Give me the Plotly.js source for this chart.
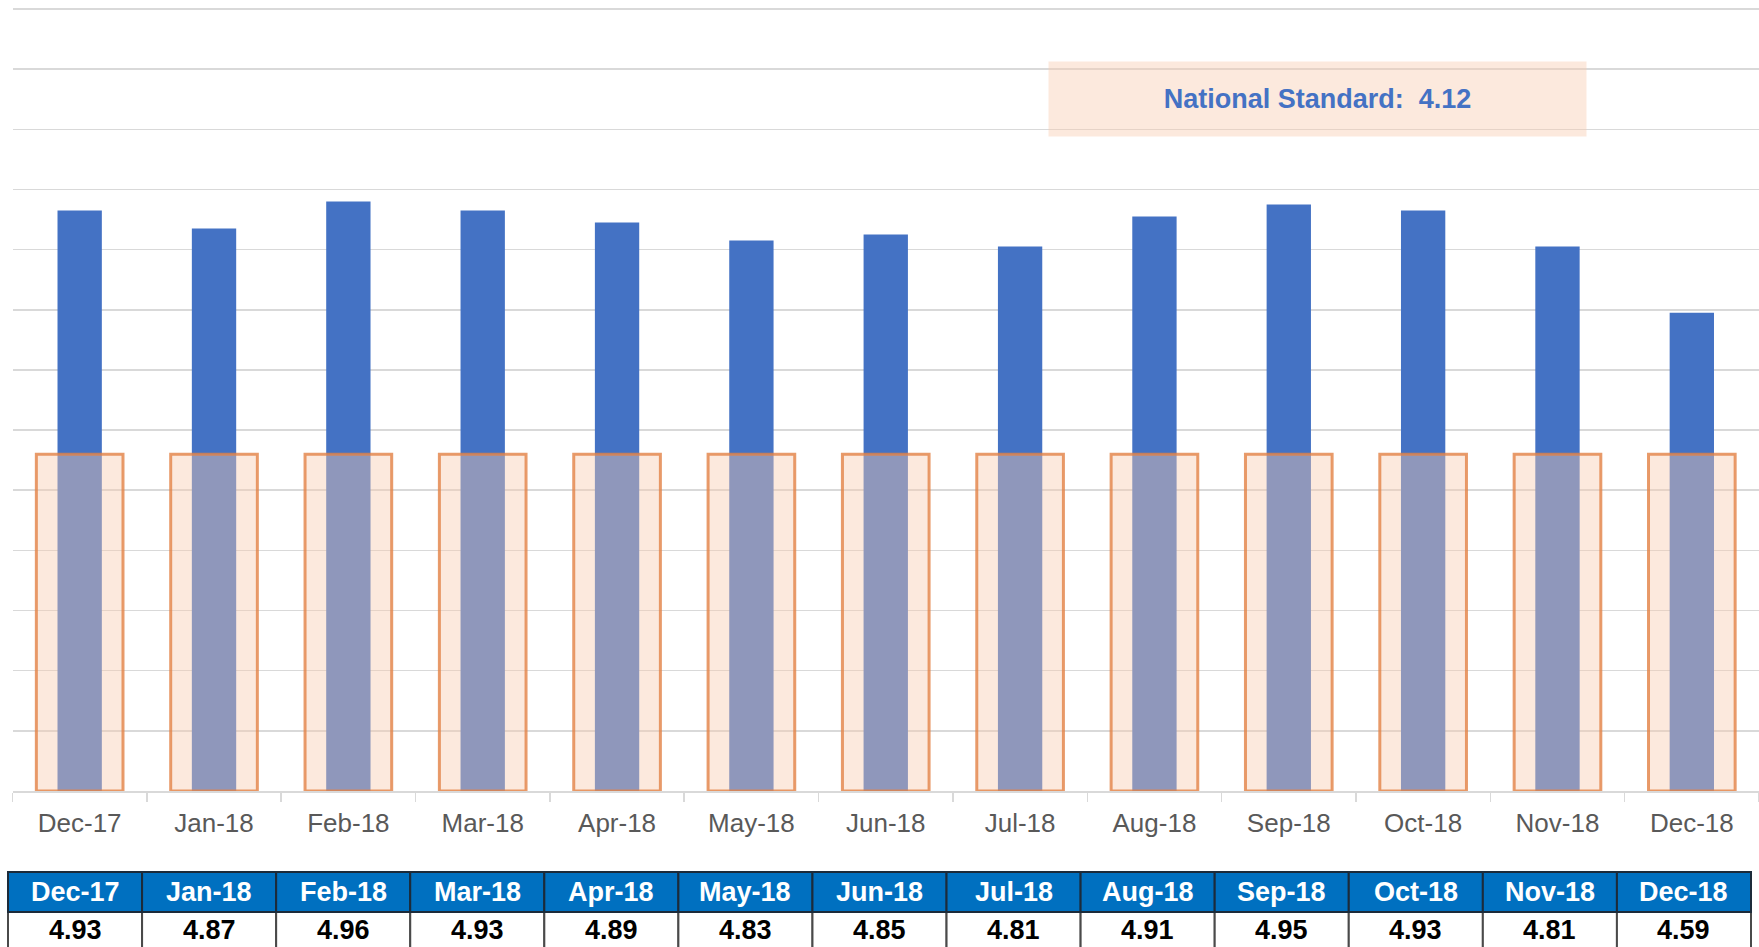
<!DOCTYPE html>
<html>
<head>
<meta charset="utf-8">
<script src="https://cdn.plot.ly/plotly-3.0.1.min.js"></script>
<style>
html,body{margin:0;padding:0;background:#fff;}
#chart{width:1759px;height:947px;}
</style>
</head>
<body>
<div id="chart"></div>
<script>
// ---- data ----
const months = ["Dec-17","Jan-18","Feb-18","Mar-18","Apr-18","May-18","Jun-18","Jul-18","Aug-18","Sep-18","Oct-18","Nov-18","Dec-18"];
const scores = [4.93, 4.87, 4.96, 4.93, 4.89, 4.83, 4.85, 4.81, 4.91, 4.95, 4.93, 4.81, 4.59];
const nationalStandard = 4.12;
const standardLabel = "National Standard:";
const yMin = 3.0;
const yMax = 5.6;

// ---- geometry (pixels of the 1759x947 page) ----
const W = 1759, H = 947;
const fy = px => (H - px) / H;   // page y pixel -> paper fraction
const fx = px => px / W;
const FONT = "Liberation Sans, Arial, sans-serif";
const fmt = v => v.toFixed(2);
const axisBottomPx = 791, gridTopPx = 9, plotTopPx = 3;
const pxPerUnit = (axisBottomPx - gridTopPx) / (yMax - yMin);
const yTop = yMax + (gridTopPx - plotTopPx) / pxPerUnit;

// ---- traces ----
const scoreBars = {
  type: "bar",
  x: months,
  y: scores,
  width: 0.33,
  marker: {color: "#4472C4", line: {width: 0}},
  hoverinfo: "x+y",
  showlegend: false
};

const standardBars = {
  type: "bar",
  x: months,
  y: months.map(() => nationalStandard - yMin),
  base: yMin,
  width: 0.645,
  marker: {
    color: "rgba(248,203,173,0.42)",
    line: {color: "rgba(226,130,70,0.8)", width: 3}
  },
  hoverinfo: "skip",
  showlegend: false
};

// ---- data table under the chart (built from months / scores) ----
const tblLeft = 8, tblRight = 1751, hdrTop = 872, hdrBot = 912, rowBot = 955;
const colW = (tblRight - tblLeft) / months.length;
const shapes = [];
const annotations = [];
months.forEach((m, i) => {
  const x0 = tblLeft + i * colW, x1 = x0 + colW;
  shapes.push({type: "rect", xref: "paper", yref: "paper", layer: "above",
    x0: fx(x0), x1: fx(x1), y0: fy(rowBot), y1: fy(hdrBot),
    fillcolor: "#FFFFFF", line: {color: "#4A4A4A", width: 2}});
});
months.forEach((m, i) => {
  const x0 = tblLeft + i * colW, x1 = x0 + colW;
  shapes.push({type: "rect", xref: "paper", yref: "paper", layer: "above",
    x0: fx(x0), x1: fx(x1), y0: fy(hdrBot), y1: fy(hdrTop),
    fillcolor: "#0070C0", line: {color: "#1C2B3A", width: 2}});
  annotations.push({xref: "paper", yref: "paper", showarrow: false,
    x: fx((x0 + x1) / 2), y: fy(892), xanchor: "center", yanchor: "middle",
    text: "<b>" + m + "</b>", font: {family: FONT, size: 27, color: "#FFFFFF"}});
  annotations.push({xref: "paper", yref: "paper", showarrow: false,
    x: fx((x0 + x1) / 2), y: fy(930), xanchor: "center", yanchor: "middle",
    text: "<b>" + fmt(scores[i]) + "</b>", font: {family: FONT, size: 27, color: "#000000"}});
});

// ---- national standard label box ----
annotations.push({
  xref: "paper", yref: "paper",
  x: fx(1317.5), y: fy(99),
  xanchor: "center", yanchor: "middle",
  width: 537, height: 74,
  borderpad: 0,
  bgcolor: "rgba(248,203,173,0.42)",
  showarrow: false,
  text: "<b>" + standardLabel + "\u00a0\u00a0" + fmt(nationalStandard) + "</b>",
  font: {family: FONT, size: 27, color: "#4472C4"}
});

const layout = {
  width: W,
  height: H,
  margin: {l: 0, r: 0, t: 0, b: 0, pad: 0},
  paper_bgcolor: "#FFFFFF",
  plot_bgcolor: "#FFFFFF",
  barmode: "overlay",
  showlegend: false,
  font: {family: FONT},
  xaxis: {
    type: "category",
    domain: [fx(12.5), 1],
    range: [-0.5, months.length - 0.5],
    showgrid: false,
    showline: true,
    linecolor: "#D9D9D9",
    linewidth: 1.5,
    ticks: "outside",
    tickson: "boundaries",
    ticklen: 9,
    tickwidth: 1.5,
    tickcolor: "#D9D9D9",
    ticklabelstandoff: 8,
    tickfont: {family: FONT, size: 26, color: "#595959"},
    fixedrange: true
  },
  yaxis: {
    domain: [fy(axisBottomPx), fy(plotTopPx)],
    range: [yMin, yTop],
    dtick: 0.2,
    tick0: 0,
    showgrid: true,
    gridcolor: "#D9D9D9",
    gridwidth: 1.5,
    showticklabels: false,
    zeroline: false,
    showline: false,
    ticks: "",
    fixedrange: true
  },
  shapes: shapes,
  annotations: annotations
};

Plotly.newPlot("chart", [scoreBars, standardBars], layout, {displayModeBar: false, staticPlot: true});
</script>
</body>
</html>
